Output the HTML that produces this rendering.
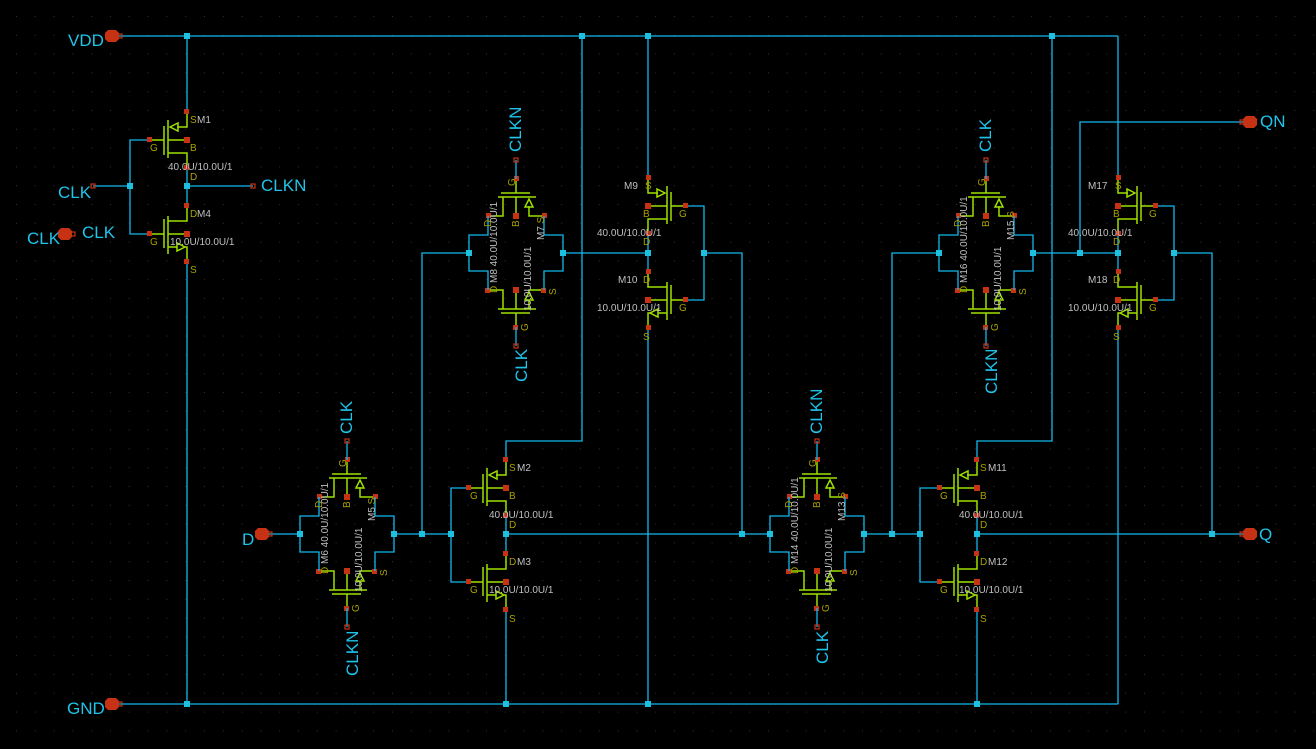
<!DOCTYPE html>
<html><head><meta charset="utf-8"><style>
html,body{margin:0;padding:0;background:#000;}
svg{display:block;}
text{font-family:"Liberation Sans","DejaVu Sans",sans-serif;}
.w{stroke:#12b8ec;stroke-width:1.3;fill:none;}
.t{stroke:#9ee000;stroke-width:1.5;fill:none;}
.lbl{fill:#1ec4ea;font-size:17px;}
.sz{fill:#c0c0c0;font-size:10px;}
.pn{fill:#a8a000;font-size:10px;}
.mn{fill:#c0c0c0;font-size:10px;}
</style></head><body>
<svg width="1316" height="749" viewBox="0 0 1316 749" xmlns="http://www.w3.org/2000/svg">
<defs>
<pattern id="grid" x="16" y="16" width="18.8" height="18.8" patternUnits="userSpaceOnUse">
<rect x="0" y="0" width="1" height="1" fill="#333"/>
</pattern>
<g id="pm">
<line class="t" x1="-37" y1="0" x2="-23" y2="0"/>
<line class="t" x1="-23" y1="-14" x2="-23" y2="15"/>
<line class="t" x1="-19" y1="-20" x2="-19" y2="18"/>
<polyline class="t" points="-10,-13 0,-13 0,-28"/>
<polygon class="t" points="-17,-13 -9,-17 -9,-9"/>
<line class="t" x1="-19" y1="0" x2="0" y2="0"/>
<polyline class="t" points="-19,13 0,13 0,28"/>
<rect x="-3" y="-31" width="5" height="5" fill="#c83214"/>
<rect x="-40" y="-3" width="5" height="5" fill="#c83214"/>
<rect x="-3" y="-3" width="6" height="6" fill="#c83214"/>
<rect x="-3" y="25" width="5" height="5" fill="#c83214"/>
</g>
<g id="nm">
<line class="t" x1="-37" y1="0" x2="-23" y2="0"/>
<line class="t" x1="-23" y1="-15" x2="-23" y2="14"/>
<line class="t" x1="-19" y1="-18" x2="-19" y2="20"/>
<polyline class="t" points="-19,-13 0,-13 0,-28"/>
<line class="t" x1="-19" y1="13" x2="-10" y2="13"/>
<polygon class="t" points="-10,9 -10,17 -2,13"/>
<polyline class="t" points="-2,13 0,13 0,28"/>
<line class="t" x1="-19" y1="0" x2="0" y2="0"/>
<rect x="-3" y="-31" width="5" height="5" fill="#c83214"/>
<rect x="-40" y="-3" width="5" height="5" fill="#c83214"/>
<rect x="-3" y="-3" width="6" height="6" fill="#c83214"/>
<rect x="-3" y="25" width="5" height="5" fill="#c83214"/>
</g>
<g id="tg">
<use href="#pm" transform="translate(0,-37) rotate(90)"/>
<use href="#nm" transform="translate(0,37) rotate(-90)"/>
<polyline class="w" points="-28,-37 -28,-18 -47,-18 -47,18 -28,18 -28,37"/>
<polyline class="w" points="28,-37 28,-18 47,-18 47,18 28,18 28,37"/>
<line class="w" x1="0" y1="-74" x2="0" y2="-93"/>
<line class="w" x1="0" y1="74" x2="0" y2="93"/>
<rect x="-2" y="-95" width="4" height="4" fill="none" stroke="#c83214" stroke-width="1.2"/>
<rect x="-2" y="91" width="4" height="4" fill="none" stroke="#c83214" stroke-width="1.2"/>
<rect x="-50" y="-3" width="6" height="6" fill="#1ec0e0"/>
<rect x="44" y="-3" width="6" height="6" fill="#1ec0e0"/>
</g>
<g id="pin">
<polygon points="-7,-3 -4,-6 4,-6 7,-3 7,3 4,6 -4,6 -7,3" fill="#c83214"/>
</g>
</defs>
<rect width="1316" height="749" fill="#000"/>
<rect width="1316" height="749" fill="url(#grid)"/>

<g class="w">
<line x1="118" y1="36" x2="1118" y2="36"/>
<line x1="118" y1="704" x2="1118" y2="704"/>
<line x1="187" y1="36" x2="187" y2="112"/>
<line x1="187" y1="262" x2="187" y2="704"/>
<line x1="93" y1="186" x2="130" y2="186"/>
<polyline points="150,140 130,140 130,234 150,234"/>
<line x1="187" y1="168" x2="187" y2="206"/>
<line x1="187" y1="186" x2="253" y2="186"/>
<polyline points="582,36 582,441 506,441 506,460"/>
<line x1="506" y1="610" x2="506" y2="704"/>
<line x1="506" y1="516" x2="506" y2="554"/>
<polyline points="469,488 451,488 451,582 469,582"/>
<line x1="268" y1="534" x2="300" y2="534"/>
<line x1="394" y1="534" x2="451" y2="534"/>
<polyline points="469,253 422,253 422,534"/>
<line x1="506" y1="534" x2="770" y2="534"/>
<line x1="648" y1="36" x2="648" y2="178"/>
<line x1="648" y1="328" x2="648" y2="704"/>
<line x1="648" y1="234" x2="648" y2="272"/>
<line x1="563" y1="253" x2="648" y2="253"/>
<polyline points="686,206 704,206 704,300 686,300"/>
<polyline points="704,253 742,253 742,534"/>
<polyline points="1052,36 1052,441 977,441 977,460"/>
<line x1="977" y1="610" x2="977" y2="704"/>
<line x1="977" y1="516" x2="977" y2="554"/>
<polyline points="940,488 920,488 920,582 940,582"/>
<line x1="864" y1="534" x2="920" y2="534"/>
<polyline points="939,253 892,253 892,534"/>
<line x1="977" y1="534" x2="1244" y2="534"/>
<line x1="1118" y1="36" x2="1118" y2="178"/>
<line x1="1118" y1="328" x2="1118" y2="704"/>
<line x1="1118" y1="234" x2="1118" y2="272"/>
<line x1="1033" y1="253" x2="1118" y2="253"/>
<polyline points="1080,253 1080,122 1244,122"/>
<polyline points="1156,206 1174,206 1174,300 1156,300"/>
<polyline points="1174,253 1212,253 1212,534"/>
</g>

<use href="#pm" transform="translate(187,140)"/>
<use href="#nm" transform="translate(187,234)"/>
<use href="#pm" transform="translate(506,488)"/>
<use href="#nm" transform="translate(506,582)"/>
<use href="#pm" transform="translate(977,488)"/>
<use href="#nm" transform="translate(977,582)"/>
<use href="#pm" transform="translate(648,206) scale(-1,1)"/>
<use href="#nm" transform="translate(648,300) scale(-1,1)"/>
<use href="#pm" transform="translate(1118,206) scale(-1,1)"/>
<use href="#nm" transform="translate(1118,300) scale(-1,1)"/>
<use href="#tg" transform="translate(347,534)"/>
<use href="#tg" transform="translate(516,253)"/>
<use href="#tg" transform="translate(817,534)"/>
<use href="#tg" transform="translate(986,253)"/>

<g fill="#1ec0e0">
<rect x="184" y="33" width="6" height="6"/><rect x="579" y="33" width="6" height="6"/>
<rect x="645" y="33" width="6" height="6"/><rect x="1049" y="33" width="6" height="6"/>
<rect x="184" y="701" width="6" height="6"/><rect x="503" y="701" width="6" height="6"/>
<rect x="645" y="701" width="6" height="6"/><rect x="974" y="701" width="6" height="6"/>
<rect x="127" y="183" width="6" height="6"/><rect x="184" y="183" width="6" height="6"/>
<rect x="419" y="531" width="6" height="6"/><rect x="448" y="531" width="6" height="6"/>
<rect x="503" y="531" width="6" height="6"/><rect x="739" y="531" width="6" height="6"/>
<rect x="889" y="531" width="6" height="6"/><rect x="917" y="531" width="6" height="6"/>
<rect x="974" y="531" width="6" height="6"/><rect x="1209" y="531" width="6" height="6"/>
<rect x="645" y="250" width="6" height="6"/><rect x="701" y="250" width="6" height="6"/>
<rect x="1077" y="250" width="6" height="6"/><rect x="1115" y="250" width="6" height="6"/>
<rect x="1171" y="250" width="6" height="6"/>
</g>
<g fill="none" stroke="#c83214" stroke-width="1.2">
<rect x="91" y="184" width="4" height="4"/><rect x="251" y="184" width="4" height="4"/>
<rect x="118" y="34" width="4" height="4"/><rect x="118" y="702" width="4" height="4"/>
<rect x="268" y="532" width="4" height="4"/><rect x="71" y="232" width="4" height="4"/>
<rect x="1240" y="120" width="4" height="4"/><rect x="1240" y="532" width="4" height="4"/>
</g>

<use href="#pin" transform="translate(112,36)"/>
<use href="#pin" transform="translate(112,704)"/>
<use href="#pin" transform="translate(262,534)"/>
<use href="#pin" transform="translate(65,234)"/>
<use href="#pin" transform="translate(1250,122)"/>
<use href="#pin" transform="translate(1250,534)"/>

<g class="lbl">
<text x="68" y="46">VDD</text>
<text x="67" y="714">GND</text>
<text x="58" y="198">CLK</text>
<text x="261" y="191">CLKN</text>
<text x="27" y="244">CLK</text>
<text x="82" y="238">CLK</text>
<text x="242" y="545">D</text>
<text x="1260" y="127">QN</text>
<text x="1259" y="540">Q</text>
<text transform="translate(352,434) rotate(-90)">CLK</text>
<text transform="translate(358,676) rotate(-90)">CLKN</text>
<text transform="translate(521,152) rotate(-90)">CLKN</text>
<text transform="translate(527,382) rotate(-90)">CLK</text>
<text transform="translate(822,434) rotate(-90)">CLKN</text>
<text transform="translate(828,664) rotate(-90)">CLK</text>
<text transform="translate(991,152) rotate(-90)">CLK</text>
<text transform="translate(997,394) rotate(-90)">CLKN</text>
</g>

<g>
<text class="pn" x="190" y="123">S</text><text class="mn" x="197" y="123">M1</text>
<text class="pn" x="150" y="151">G</text><text class="pn" x="190" y="151">B</text>
<text class="sz" x="168" y="170">40.0U/10.0U/1</text><text class="pn" x="190" y="180">D</text>
<text class="pn" x="190" y="217">D</text><text class="mn" x="197" y="217">M4</text>
<text class="pn" x="150" y="245">G</text><text class="sz" x="170" y="245">10.0U/10.0U/1</text>
<text class="pn" x="190" y="273">S</text>

<text class="pn" x="509" y="471">S</text><text class="mn" x="517" y="471">M2</text>
<text class="pn" x="470" y="499">G</text><text class="pn" x="509" y="499">B</text>
<text class="sz" x="489" y="518">40.0U/10.0U/1</text><text class="pn" x="509" y="528">D</text>
<text class="pn" x="509" y="565">D</text><text class="mn" x="517" y="565">M3</text>
<text class="pn" x="470" y="593">G</text><text class="sz" x="489" y="593">10.0U/10.0U/1</text>
<text class="pn" x="509" y="622">S</text>

<text class="pn" x="980" y="471">S</text><text class="mn" x="988" y="471">M11</text>
<text class="pn" x="940" y="499">G</text><text class="pn" x="980" y="499">B</text>
<text class="sz" x="959" y="518">40.0U/10.0U/1</text><text class="pn" x="980" y="528">D</text>
<text class="pn" x="980" y="565">D</text><text class="mn" x="988" y="565">M12</text>
<text class="pn" x="940" y="593">G</text><text class="sz" x="959" y="593">10.0U/10.0U/1</text>
<text class="pn" x="980" y="622">S</text>

<text class="mn" x="624" y="189">M9</text><text class="pn" x="645" y="189">S</text>
<text class="pn" x="643" y="217">B</text><text class="pn" x="679" y="217">G</text>
<text class="sz" x="597" y="236">40.0U/10.0U/1</text><text class="pn" x="643" y="245">D</text>
<text class="mn" x="618" y="283">M10</text><text class="pn" x="643" y="283">D</text>
<text class="pn" x="679" y="311">G</text><text class="sz" x="597" y="311">10.0U/10.0U/1</text>
<text class="pn" x="643" y="340">S</text>

<text class="mn" x="1088" y="189">M17</text><text class="pn" x="1115" y="189">S</text>
<text class="pn" x="1113" y="217">B</text><text class="pn" x="1149" y="217">G</text>
<text class="sz" x="1068" y="236">40.0U/10.0U/1</text><text class="pn" x="1113" y="245">D</text>
<text class="mn" x="1088" y="283">M18</text><text class="pn" x="1113" y="283">D</text>
<text class="pn" x="1149" y="311">G</text><text class="sz" x="1068" y="311">10.0U/10.0U/1</text>
<text class="pn" x="1113" y="340">S</text>
</g>

<g id="tgl1" transform="translate(347,534)">
<text class="pn" transform="translate(-1,-67) rotate(-90)">G</text>
<text class="pn" transform="translate(-25,-26) rotate(-90)">D</text>
<text class="pn" transform="translate(3,-26) rotate(-90)">B</text>
<text class="sz" transform="translate(-19,40) rotate(-90)"><tspan fill="#a8a000">D</tspan> M6 40.0U/10.0U/1</text>
<text class="sz" transform="translate(28,-13) rotate(-90)">M5 <tspan fill="#a8a000">S</tspan></text>
<text class="sz" transform="translate(15,58) rotate(-90)">10.0U/10.0U/1</text>
<text class="pn" transform="translate(40,42) rotate(-90)">S</text>
<text class="pn" transform="translate(12,78) rotate(-90)">G</text>
</g>
<g transform="translate(516,253)">
<text class="pn" transform="translate(-1,-67) rotate(-90)">G</text>
<text class="pn" transform="translate(-25,-26) rotate(-90)">D</text>
<text class="pn" transform="translate(3,-26) rotate(-90)">B</text>
<text class="sz" transform="translate(-19,40) rotate(-90)"><tspan fill="#a8a000">D</tspan> M8 40.0U/10.0U/1</text>
<text class="sz" transform="translate(28,-13) rotate(-90)">M7 <tspan fill="#a8a000">S</tspan></text>
<text class="sz" transform="translate(15,58) rotate(-90)">10.0U/10.0U/1</text>
<text class="pn" transform="translate(40,42) rotate(-90)">S</text>
<text class="pn" transform="translate(12,78) rotate(-90)">G</text>
</g>
<g transform="translate(817,534)">
<text class="pn" transform="translate(-1,-67) rotate(-90)">G</text>
<text class="pn" transform="translate(-25,-26) rotate(-90)">D</text>
<text class="pn" transform="translate(3,-26) rotate(-90)">B</text>
<text class="sz" transform="translate(-19,40) rotate(-90)"><tspan fill="#a8a000">D</tspan> M14 40.0U/10.0U/1</text>
<text class="sz" transform="translate(28,-13) rotate(-90)">M13 <tspan fill="#a8a000">S</tspan></text>
<text class="sz" transform="translate(15,58) rotate(-90)">10.0U/10.0U/1</text>
<text class="pn" transform="translate(40,42) rotate(-90)">S</text>
<text class="pn" transform="translate(12,78) rotate(-90)">G</text>
</g>
<g transform="translate(986,253)">
<text class="pn" transform="translate(-1,-67) rotate(-90)">G</text>
<text class="pn" transform="translate(-25,-26) rotate(-90)">D</text>
<text class="pn" transform="translate(3,-26) rotate(-90)">B</text>
<text class="sz" transform="translate(-19,40) rotate(-90)"><tspan fill="#a8a000">D</tspan> M16 40.0U/10.0U/1</text>
<text class="sz" transform="translate(28,-13) rotate(-90)">M15 <tspan fill="#a8a000">S</tspan></text>
<text class="sz" transform="translate(15,58) rotate(-90)">10.0U/10.0U/1</text>
<text class="pn" transform="translate(40,42) rotate(-90)">S</text>
<text class="pn" transform="translate(12,78) rotate(-90)">G</text>
</g>
</svg>
</body></html>
